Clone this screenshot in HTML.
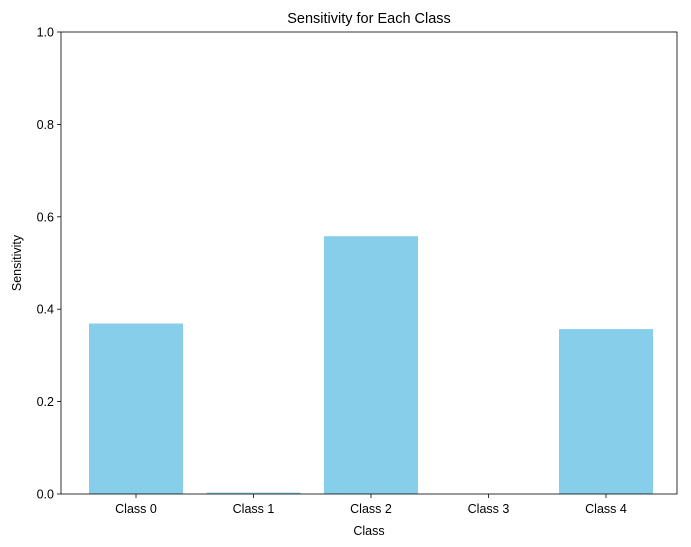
<!DOCTYPE html>
<html><head><meta charset="utf-8"><style>
html,body{margin:0;padding:0;background:#fff;}
svg{display:block;font-family:"Liberation Sans","DejaVu Sans",sans-serif;}
</style></head><body>
<svg id="chart" width="691" height="547"></svg>
<script>
const categories = ["Class 0","Class 1","Class 2","Class 3","Class 4"];
const sensitivity = [0.369, 0.003, 0.558, 0, 0.357];
const yTicks = [0, 0.2, 0.4, 0.6, 0.8, 1.0];
const yTickLabels = ["0.0","0.2","0.4","0.6","0.8","1.0"];

const NS = "http://www.w3.org/2000/svg";
const svg = document.getElementById("chart");
const L = 61, R = 677, T = 32, B = 494;
const xPos = i => 136 + 117.5 * i;
const yPos = v => B - v * (B - T);
const barW = 94;
function mk(tag, attrs, parent) {
  const e = document.createElementNS(NS, tag);
  for (const k in attrs) e.setAttribute(k, attrs[k]);
  (parent || svg).appendChild(e);
  return e;
}
categories.forEach((c, i) => {
  const y = yPos(sensitivity[i]);
  const bar = mk("rect", {x: xPos(i) - barW / 2, y: y, width: barW, height: B - y, fill: "#87ceeb"});
  
  
  const tk = mk("line", {x1: xPos(i), x2: xPos(i), y1: B, y2: B + 4, stroke: "#000", "stroke-width": 0.8});
  
  
  const t = mk("text", {x: xPos(i), y: B + 19, "text-anchor": "middle", "font-size": 12.5});
  t.textContent = c;
  
  
});
yTicks.forEach((v, i) => {
  const tk = mk("line", {x1: L - 4, x2: L, y1: yPos(v), y2: yPos(v), stroke: "#000", "stroke-width": 0.8});
  
  
  const t = mk("text", {x: L - 7, y: yPos(v) + 4.5, "text-anchor": "end", "font-size": 12.5});
  t.textContent = yTickLabels[i];
  
  
});
const frame = mk("rect", {x: L, y: T, width: R - L, height: B - T, fill: "none", stroke: "#000", "stroke-width": 0.8});


const title = mk("text", {x: (L + R) / 2, y: 23, "text-anchor": "middle", "font-size": 14.5});
title.textContent = "Sensitivity for Each Class";


const xt = mk("text", {x: (L + R) / 2, y: 535, "text-anchor": "middle", "font-size": 12.5});
xt.textContent = "Class";


const yt = mk("text", {x: 21, y: (T + B) / 2, "text-anchor": "middle", "font-size": 12.5, transform: "rotate(-90 21 " + (T + B) / 2 + ")"});
yt.textContent = "Sensitivity";


</script>
</body></html>
